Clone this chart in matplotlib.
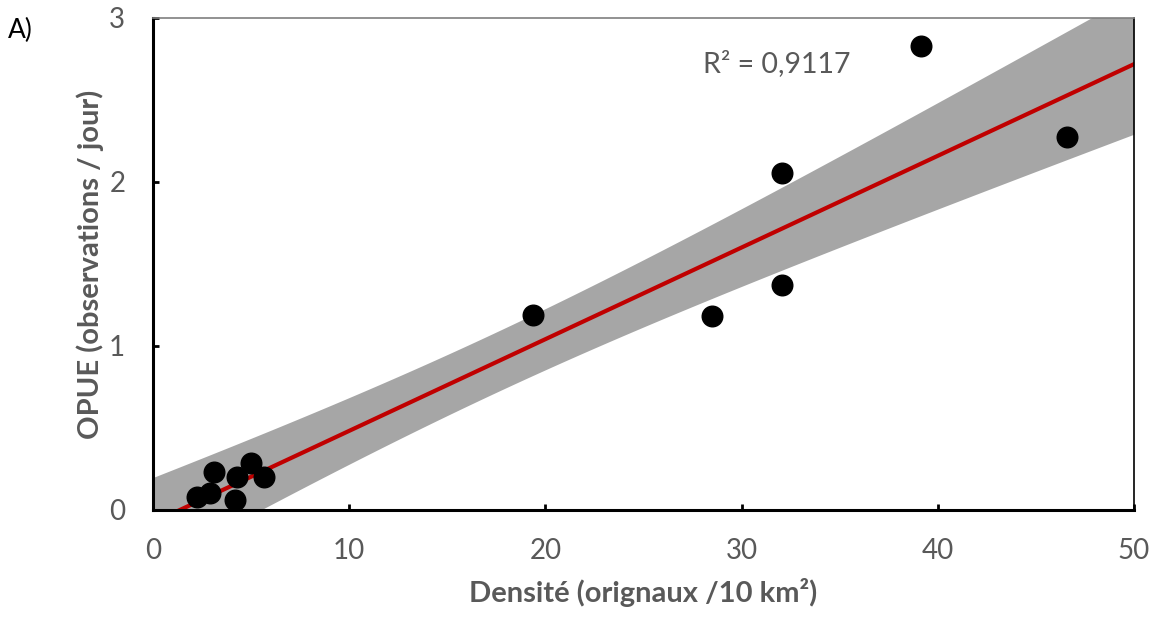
import matplotlib
matplotlib.use('Agg')
import matplotlib.pyplot as plt
import numpy as np

plt.rcParams['font.family'] = ['Lato', 'DejaVu Sans']

# densite (orignaux / 10 km2) et OPUE (observations / jour)
densite = [2.23, 2.91, 3.11, 4.27, 4.98, 5.66, 4.18, 19.37, 28.48, 32.06, 32.06, 39.14, 46.58]
opue = [0.081, 0.104, 0.232, 0.203, 0.285, 0.203, 0.061, 1.189, 1.18, 1.372, 2.055, 2.83, 2.274]
# droite de tendance (pente, ordonnee a l'origine)
pente = 0.0559
ordonnee = -0.0765
r2_label = 'R² = 0,9117'
t_crit = 2.201  # t 95%, 11 ddl

xs = np.array(densite)
ys = np.array(opue)
n = len(xs)
resid = ys - (pente * xs + ordonnee)
s = np.sqrt(np.sum(resid**2) / (n - 2))
sxx = np.sum((xs - xs.mean())**2)

xg = np.linspace(0, 50, 300)
yg = pente * xg + ordonnee
half = t_crit * s * np.sqrt(1.0 / n + (xg - xs.mean())**2 / sxx)

fig = plt.figure(figsize=[11.55, 6.18], dpi=100)
ax = fig.add_axes([0.1325, 0.1748, 0.8493, 0.7961])

ax.fill_between(xg, yg - half, yg + half, color='#a6a6a6', lw=0, zorder=1)
ax.plot(xg, yg, color='#c00000', lw=3, zorder=2)
ax.scatter(xs, ys, s=220, color='black', zorder=4)

ax.set_xlim(0, 50)
ax.set_ylim(0, 3)
ax.set_xticks([0, 10, 20, 30, 40, 50])
ax.set_yticks([0, 1, 2, 3])
ax.tick_params(direction='in', length=4.5, width=2, colors='black', labelcolor='#595959',
               labelsize=20, pad=20)

for side in ['left', 'bottom']:
    ax.spines[side].set_linewidth(2.2)
    ax.spines[side].set_color('black')
ax.spines['right'].set_linewidth(1.2)
ax.spines['right'].set_color('black')
ax.spines['top'].set_linewidth(1.2)
ax.spines['top'].set_color('#7f7f7f')

ax.set_xlabel('Densité (orignaux /10 km²)', fontsize=21, fontweight='bold', color='#595959', labelpad=10)
ax.set_ylabel('OPUE (observations / jour)', fontsize=21, fontweight='bold', color='#595959', labelpad=4)

ax.text(28.03, 2.72, r2_label, fontsize=20.5, color='#595959', va='center')
fig.text(0.007, 0.951, 'A)', fontsize=19, color='black', va='center')

plt.savefig('out.png')
